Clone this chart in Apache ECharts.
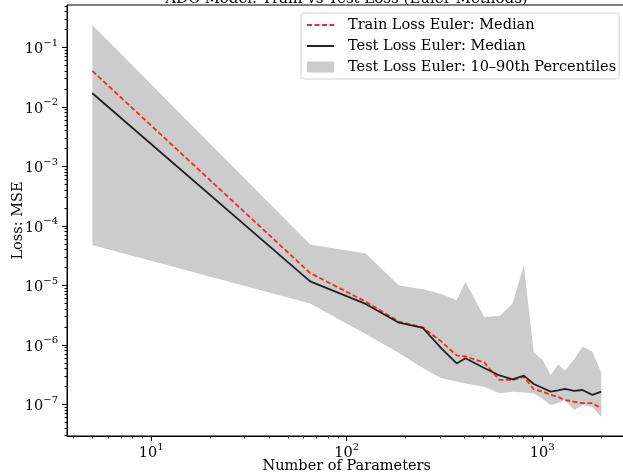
<!DOCTYPE html>
<html>
<head>
<meta charset="utf-8">
<script src="https://cdn.jsdelivr.net/npm/echarts@6/dist/echarts.min.js"></script>
<style>
  html, body { margin: 0; padding: 0; background: #fff; }
  #main { width: 623px; height: 474px; }
</style>
</head>
<body>
<div id="main"></div>
<script>
// data
const paramCounts = [5, 65, 125, 185, 245, 305, 365, 405, 505, 605, 705, 805, 905, 1005, 1105, 1205, 1305, 1455, 1605, 1805, 2005];
const trainMedian = [0.0403, 1.62e-5, 5.35e-6, 2.47e-6, 1.97e-6, 1.14e-6, 6.67e-7, 6.41e-7, 5.08e-7, 2.58e-7, 2.58e-7, 2.90e-7, 1.80e-7, 1.65e-7, 1.45e-7, 1.34e-7, 1.19e-7, 1.11e-7, 1.05e-7, 1.05e-7, 8.63e-8];
const testMedian = [0.0170, 1.17e-5, 4.89e-6, 2.37e-6, 1.93e-6, 8.73e-7, 4.89e-7, 5.97e-7, 4.10e-7, 3.07e-7, 2.65e-7, 3.05e-7, 2.21e-7, 1.89e-7, 1.64e-7, 1.72e-7, 1.82e-7, 1.69e-7, 1.75e-7, 1.45e-7, 1.64e-7];
const testP10 = [4.80e-5, 4.98e-6, 1.53e-6, 7.35e-7, 4.10e-7, 2.75e-7, 2.44e-7, 2.25e-7, 1.99e-7, 1.54e-7, 1.64e-7, 1.59e-7, 1.54e-7, 1.24e-7, 9.81e-8, 1.06e-7, 1.19e-7, 8.09e-8, 9.81e-8, 9.08e-8, 6.17e-8];
const testP90 = [0.239, 4.89e-5, 3.45e-5, 1.0e-5, 8.63e-6, 7.19e-6, 5.64e-6, 1.15e-5, 2.96e-6, 3.07e-6, 4.94e-6, 2.21e-5, 7.48e-7, 5.60e-7, 3.13e-7, 4.74e-7, 3.70e-7, 5.70e-7, 9.44e-7, 7.71e-7, 3.44e-7];

const xMajorTicks = [10, 100, 1000];
const yMajorTicks = [1e-7, 1e-6, 1e-5, 1e-4, 1e-3, 1e-2, 1e-1];

const FONT = 'DejaVu Serif';
const FS = 14.5;
const xMin = 3.71, xMax = 2698;
const yMin = 2.95e-8, yMax = 0.5176;

function minorTicks(lo, hi) {
  const out = [];
  for (let e = Math.floor(Math.log10(lo)); e <= Math.ceil(Math.log10(hi)); e++) {
    for (let k = 2; k <= 9; k++) {
      const v = k * Math.pow(10, e);
      if (v >= lo && v <= hi) out.push(v);
    }
  }
  return out;
}

function powLabel(v) {
  const e = Math.round(Math.log10(v));
  return '{b|10}{s|' + String(e).replace('-', '\u2212') + '}';
}

const labelRich = {
  b: { fontFamily: FONT, fontSize: FS, color: '#000', verticalAlign: 'bottom', lineHeight: 19 },
  s: { fontFamily: FONT, fontSize: 10, color: '#000', verticalAlign: 'top', lineHeight: 19 }
};

const bandName = 'Test Loss Euler: 10\u201390th Percentiles';

let myChart = echarts.init(document.getElementById('main'));
myChart.setOption({
  animation: false,
  grid: {
    left: 67, top: 5, width: 559.5, height: 431, outerBoundsMode: 'none', containLabel: false,
    show: true, borderColor: '#000', borderWidth: 1
  },
  graphic: [{
    type: 'text', x: 346.5, y: 7,
    style: { text: 'ADC Model: Train vs Test Loss (Euler Methods)', font: '15px "DejaVu Serif"', textAlign: 'center', textVerticalAlign: 'bottom', fill: '#000' }
  }],
  legend: {
    orient: 'vertical', left: 301, top: 13,
    padding: [4, 3, 4, 5], itemGap: 5, itemWidth: 27, itemHeight: 11,
    backgroundColor: 'rgba(255,255,255,0.8)', borderColor: '#d0d0d0', borderWidth: 1, borderRadius: 3,
    textStyle: { fontFamily: FONT, fontSize: FS, color: '#000', lineHeight: 16, padding: [0, 0, 0, 9] },
    data: [
      { name: 'Train Loss Euler: Median', itemStyle: { opacity: 0 } },
      { name: 'Test Loss Euler: Median', itemStyle: { opacity: 0 } },
      { name: bandName, icon: 'rect', itemStyle: { color: '#cccccc' } }
    ]
  },
  xAxis: [{
    type: 'log', logBase: 10, min: xMin, max: xMax,
    axisLine: { show: true, lineStyle: { color: '#000', width: 1 } },
    axisTick: { show: true, length: 5, customValues: xMajorTicks, lineStyle: { color: '#000' } },
    axisLabel: { customValues: xMajorTicks, formatter: powLabel, rich: labelRich, color: '#000', margin: 6 },
    splitLine: { show: false },
    name: 'Number of Parameters', nameLocation: 'middle', nameGap: 23, nameMoveOverlap: false,
    nameTextStyle: { fontFamily: FONT, fontSize: FS, color: '#000' }
  }, {
    type: 'log', logBase: 10, min: xMin, max: xMax, position: 'bottom',
    axisLine: { show: false },
    axisTick: { show: true, length: 2.5, customValues: minorTicks(xMin, xMax), lineStyle: { color: '#000' } },
    axisLabel: { show: false },
    splitLine: { show: false }
  }],
  yAxis: [{
    type: 'log', logBase: 10, min: yMin, max: yMax,
    axisLine: { show: true, lineStyle: { color: '#000', width: 1 } },
    axisTick: { show: true, length: 5, customValues: yMajorTicks, lineStyle: { color: '#000' } },
    axisLabel: { customValues: yMajorTicks, formatter: powLabel, rich: labelRich, color: '#000', margin: 9 },
    splitLine: { show: false },
    name: 'Loss: MSE', nameLocation: 'middle', nameGap: 41, nameRotate: 90, nameMoveOverlap: false,
    nameTextStyle: { fontFamily: FONT, fontSize: FS, color: '#000' }
  }, {
    type: 'log', logBase: 10, min: yMin, max: yMax, position: 'left',
    axisLine: { show: false },
    axisTick: { show: true, length: 2.5, customValues: minorTicks(yMin, yMax), lineStyle: { color: '#000' } },
    axisLabel: { show: false },
    splitLine: { show: false }
  }],
  series: [
    {
      // 10-90th percentile band, one polygon through the axis scales
      name: bandName, type: 'custom', z: 1, silent: true,
      itemStyle: { color: '#cccccc' },
      data: paramCounts.map((x, i) => [x, testP10[i], testP90[i]]),
      encode: { x: 0, y: [1, 2] },
      renderItem: function (params, api) {
        if (params.dataIndex !== 0) return;
        const upper = paramCounts.map((x, i) => api.coord([x, testP90[i]]));
        const lower = paramCounts.map((x, i) => api.coord([x, testP10[i]])).reverse();
        return { type: 'polygon', shape: { points: upper.concat(lower) }, style: { fill: '#cccccc' } };
      }
    },
    {
      name: 'Train Loss Euler: Median', type: 'line', symbol: 'none', z: 2,
      itemStyle: { color: '#f52a2a' },
      lineStyle: { color: '#f52a2a', width: 1.8, type: [5, 2.5] },
      data: paramCounts.map((x, i) => [x, trainMedian[i]])
    },
    {
      name: 'Test Loss Euler: Median', type: 'line', symbol: 'none', z: 3,
      itemStyle: { color: '#222222' },
      lineStyle: { color: '#222222', width: 1.8 },
      data: paramCounts.map((x, i) => [x, testMedian[i]])
    }
  ]
});
</script>
</body>
</html>
